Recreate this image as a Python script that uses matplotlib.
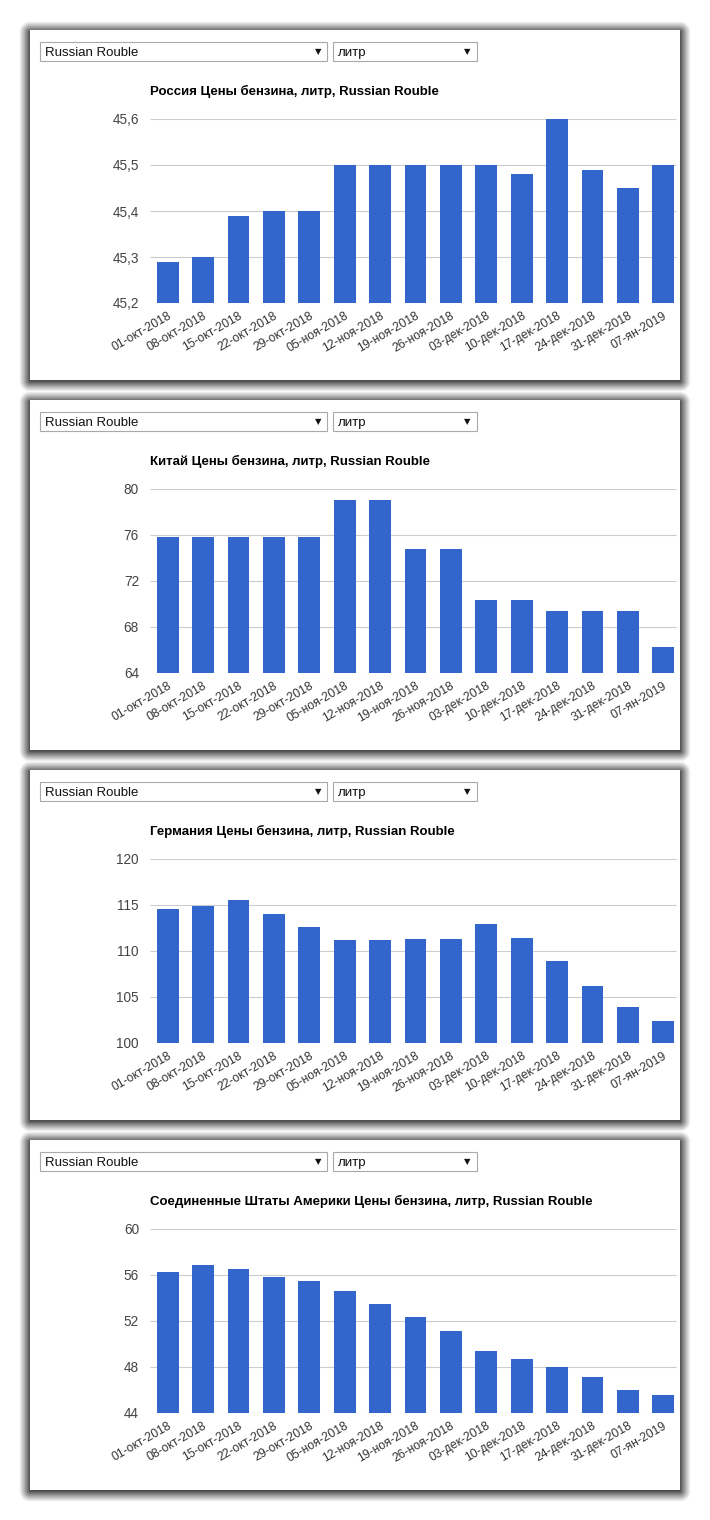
import numpy as np
import matplotlib
matplotlib.use("Agg")
import matplotlib.pyplot as plt
from matplotlib.patches import Rectangle

plt.rcParams['font.family'] = ['Liberation Sans Narrow', 'Liberation Sans', 'DejaVu Sans']

dates = ["01-окт-2018", "08-окт-2018", "15-окт-2018", "22-окт-2018", "29-окт-2018",
         "05-ноя-2018", "12-ноя-2018", "19-ноя-2018", "26-ноя-2018", "03-дек-2018",
         "10-дек-2018", "17-дек-2018", "24-дек-2018", "31-дек-2018", "07-ян-2019"]

russia = [45.29, 45.30, 45.39, 45.40, 45.40, 45.50, 45.50, 45.50, 45.50, 45.50,
          45.48, 45.60, 45.49, 45.45, 45.50]
china = [75.85, 75.85, 75.85, 75.85, 75.85, 79.06, 79.06, 74.8, 74.8, 70.36,
         70.36, 69.4, 69.4, 69.4, 66.28]
germany = [114.57, 114.93, 115.58, 114.06, 112.64, 111.23, 111.23, 111.34, 111.34, 112.97,
           111.45, 108.95, 106.23, 103.95, 102.43]
usa = [56.29, 56.9, 56.55, 55.86, 55.5, 54.64, 53.48, 52.38, 51.16, 49.42,
       48.72, 47.97, 47.16, 46.03, 45.59]

titles = ["Россия Цены бензина, литр, Russian Rouble",
          "Китай Цены бензина, литр, Russian Rouble",
          "Германия Цены бензина, литр, Russian Rouble",
          "Соединенные Штаты Америки Цены бензина, литр, Russian Rouble"]
series = [russia, china, germany, usa]
yticks = [[45.2, 45.3, 45.4, 45.5, 45.6],
          [64, 68, 72, 76, 80],
          [100, 105, 110, 115, 120],
          [44, 48, 52, 56, 60]]
ytick_labels = [["45,2", "45,3", "45,4", "45,5", "45,6"],
                ["64", "68", "72", "76", "80"],
                ["100", "105", "110", "115", "120"],
                ["44", "48", "52", "56", "60"]]

W, H = 710, 1520
fig = plt.figure(figsize=(W / 100, H / 100), dpi=100)
fig.patch.set_facecolor("white")


def px_rect(x0, y0, w, h, **kw):
    # pixel coords from top-left -> figure fraction
    return Rectangle((x0 / W, 1 - (y0 + h) / H), w / W, h / H, transform=fig.transFigure, **kw)


def px_text(x, y, s, **kw):
    fig.text(x / W, 1 - y / H, s, **kw)


# soft shadow behind the cards, as one image
yy, xx = np.mgrid[0:H, 0:W] + 0.5
shadow = np.zeros((H, W))
for i in range(4):
    top = 30 + 370 * i
    x0, x1, y0, y1 = 30, 680, top + 2, top + 351
    dx = np.maximum(np.maximum(x0 - xx, xx - x1), 0)
    dy = np.maximum(np.maximum(y0 - yy, yy - y1), 0)
    d = np.sqrt(dx ** 2 + dy ** 2)
    a = 0.7 * np.clip(1 - d / 11.0, 0, 1) ** 1.1
    shadow = np.maximum(shadow, a)
rgba = np.zeros((H, W, 4))
rgba[..., 3] = shadow
fig.figimage(rgba, xo=0, yo=0, origin="upper", zorder=0)

for i in range(4):
    top = 30 + 370 * i
    fig.patches.append(px_rect(30, top, 650, 350, facecolor="white", edgecolor="none", zorder=1))

    # dropdowns
    fig.patches.append(px_rect(40, top + 12, 287, 19, facecolor="white", edgecolor="#a9a9a9",
                               linewidth=0.8, zorder=2))
    fig.patches.append(px_rect(333, top + 12, 144, 19, facecolor="white", edgecolor="#a9a9a9",
                               linewidth=0.8, zorder=2))
    px_text(45, top + 26, "Russian Rouble", fontsize=9.5, va="baseline", ha="left",
            color="#111111", family=['Liberation Sans', 'DejaVu Sans'], zorder=3)
    px_text(318, top + 21.5, "▼", fontsize=6, va="center", ha="center", color="#111111",
            family=['DejaVu Sans'], zorder=3)
    px_text(338, top + 26, "литр", fontsize=9.5, va="baseline", ha="left",
            color="#111111", family=['Liberation Sans', 'DejaVu Sans'], zorder=3)
    px_text(467, top + 21.5, "▼", fontsize=6, va="center", ha="center", color="#111111",
            family=['DejaVu Sans'], zorder=3)

    # title
    px_text(150, top + 61, titles[i], fontsize=9.5, fontweight="bold", va="center", ha="left",
            color="#000000", zorder=3)

    # plot area
    ax = fig.add_axes([150 / W, 1 - (top + 273) / H, 531 / W, 184 / H], zorder=4)
    ax.set_facecolor("none")
    x = np.arange(len(dates))
    ax.hlines(yticks[i], -0.5, len(dates) - 0.65, color="#cccccc", linewidth=0.8, zorder=0)
    ax.bar(x, series[i], width=0.62, color="#3366cc", zorder=3)
    ax.set_xlim(-0.5, len(dates) - 0.5)
    ax.set_ylim(yticks[i][0], yticks[i][-1])
    ax.set_yticks(yticks[i])
    ax.set_yticklabels(ytick_labels[i])
    for s in ax.spines.values():
        s.set_visible(False)
    ax.tick_params(axis="y", length=0, pad=8, labelsize=9.8, labelcolor="#444444")
    ax.set_xticks(x)
    ax.set_xticklabels(dates, rotation=30, ha="right", rotation_mode="anchor",
                       family=['Liberation Sans', 'DejaVu Sans'])
    ax.tick_params(axis="x", length=0, pad=5, labelsize=8.7, labelcolor="#333333")
    for lab in ax.get_yticklabels():
        lab.set_family(['Liberation Sans', 'DejaVu Sans'])

fig.savefig("out.png", dpi=100, facecolor="white")
